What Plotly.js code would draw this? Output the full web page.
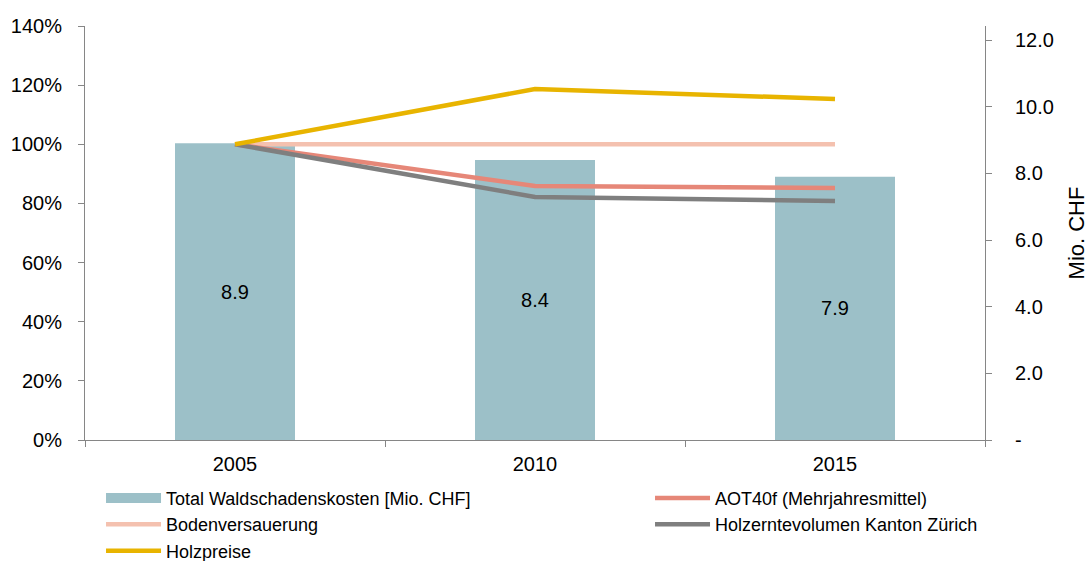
<!DOCTYPE html>
<html>
<head>
<meta charset="utf-8">
<script src="https://cdn.plot.ly/plotly-3.0.1.min.js"></script>
<style>
html,body{margin:0;padding:0;background:#fff;}
#chart{width:1089px;height:561px;}
</style>
</head>
<body>
<div id="chart"></div>
<script>
// ---- data ----
var years = ['2005', '2010', '2015'];
var totalKosten = [8.9, 8.4, 7.9];            // Mio. CHF (right axis)
var aot40f = [1.00, 0.859, 0.852];             // relative to 2005
var bodenversauerung = [1.00, 1.00, 1.00];
var holzerntevolumen = [1.00, 0.822, 0.808];
var holzpreise = [1.00, 1.187, 1.153];
var rightTickVals = [0, 2, 4, 6, 8, 10, 12];
var rightTickText = ['-', '2.0', '4.0', '6.0', '8.0', '10.0', '12.0'];

var FONT = 'Liberation Sans, Arial, Helvetica, sans-serif';
var AXC = '#868686';
var cBar = '#9CC0C8', cAot = '#E68778', cBoden = '#F4C1AF', cGrey = '#7F7F7F', cGold = '#E8B400';
var LW = 4.5;

var traces = [
  {
    type: 'bar', x: years, y: totalKosten, yaxis: 'y', width: 0.4,
    marker: {color: cBar}, showlegend: false,
    text: totalKosten.map(function(v){return v.toFixed(1);}),
    textposition: 'inside', insidetextanchor: 'middle', textangle: 0,
    textfont: {family: FONT, size: 20, color: '#000'},
    hoverinfo: 'skip'
  },
  {
    // legend-only entry for the bar series (wide block symbol)
    type: 'scatter', mode: 'lines', x: [null], y: [null], yaxis: 'y2',
    name: 'Total Waldschadenskosten [Mio. CHF]', legend: 'legend', legendgroup: 'g1',
    showlegend: true,
    line: {color: cBar, width: 12}
  },
  {
    type: 'scatter', mode: 'lines', x: years, y: bodenversauerung, yaxis: 'y2',
    name: 'Bodenversauerung', legend: 'legend', legendgroup: 'g2',
    line: {color: cBoden, width: LW}
  },
  {
    type: 'scatter', mode: 'lines', x: years, y: aot40f, yaxis: 'y2',
    name: 'AOT40f (Mehrjahresmittel)', legend: 'legend2', legendgroup: 'g4',
    line: {color: cAot, width: LW}
  },
  {
    type: 'scatter', mode: 'lines', x: years, y: holzerntevolumen, yaxis: 'y2',
    name: 'Holzerntevolumen Kanton Zürich', legend: 'legend2', legendgroup: 'g5',
    line: {color: cGrey, width: LW}
  },
  {
    type: 'scatter', mode: 'lines', x: years, y: holzpreise, yaxis: 'y2',
    name: 'Holzpreise', legend: 'legend', legendgroup: 'g3',
    line: {color: cGold, width: LW}
  }
];

var legendCommon = {
  orientation: 'v', xanchor: 'left', yanchor: 'top',
  font: {family: FONT, size: 18, color: '#000'},
  bgcolor: 'rgba(0,0,0,0)', borderwidth: 0,
  tracegroupgap: 0, itemwidth: 55
};

var layout = {
  width: 1089, height: 561,
  margin: {l: 85, r: 104, t: 26, b: 121, autoexpand: false},
  paper_bgcolor: '#fff', plot_bgcolor: '#fff',
  font: {family: FONT, size: 20, color: '#000'},
  showlegend: true,
  hovermode: false,
  xaxis: {
    type: 'category', range: [-0.5, 2.5],
    tickson: 'boundaries', ticks: 'outside', ticklen: 6, tickcolor: AXC,
    showline: true, linecolor: AXC, linewidth: 1,
    showgrid: false, zeroline: false,
    ticklabelstandoff: 6,
    tickfont: {family: FONT, size: 20, color: '#000'}
  },
  yaxis: {
    side: 'right', range: [0, 12.42],
    tickmode: 'array', tickvals: rightTickVals, ticktext: rightTickText,
    ticks: 'outside', ticklen: 6, tickcolor: AXC,
    showline: true, linecolor: AXC, linewidth: 1,
    showgrid: false, zeroline: false,
    tickfont: {family: FONT, size: 20, color: '#000'},
    ticklabelstandoff: 19,
    title: {text: 'Mio. CHF', font: {family: FONT, size: 22, color: '#000'}, standoff: 15}
  },
  yaxis2: {
    overlaying: 'y', side: 'left', range: [0, 1.4], dtick: 0.2, tick0: 0,
    tickformat: '.0%',
    ticks: 'outside', ticklen: 6, tickcolor: AXC,
    showline: true, linecolor: AXC, linewidth: 1,
    showgrid: false, zeroline: false,
    ticklabelstandoff: 12,
    tickfont: {family: FONT, size: 20, color: '#000'}
  },
  legend: Object.assign({}, legendCommon, {x: 0.0178, y: -0.096}),
  legend2: Object.assign({}, legendCommon, {x: 0.6278, y: -0.096})
};

Plotly.newPlot('chart', traces, layout, {displayModeBar: false, staticPlot: true});
</script>
</body>
</html>
